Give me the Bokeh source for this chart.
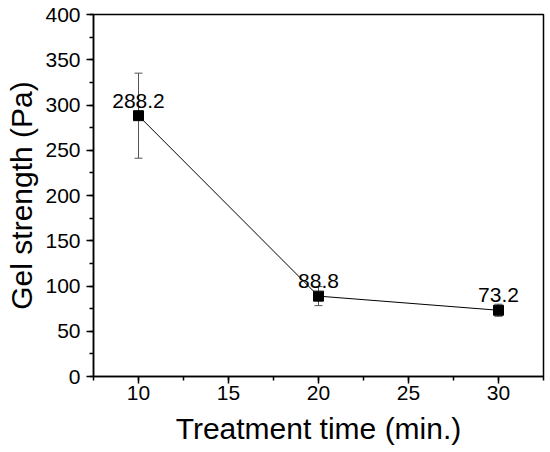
from bokeh.plotting import figure
from bokeh.models import ColumnDataSource, Whisker, TeeHead, LabelSet, SingleIntervalTicker, Range1d
from bokeh.core.properties import value
from bokeh.embed import file_html
from bokeh.resources import INLINE

time_min = [10, 20, 30]
gel_strength = [288.2, 88.8, 73.2]
gel_error = [47.0, 10.5, 6.7]
value_labels = ["288.2", "88.8", "73.2"]

upper = [v + e for v, e in zip(gel_strength, gel_error)]
lower = [v - e for v, e in zip(gel_strength, gel_error)]

src = ColumnDataSource(dict(x=time_min, y=gel_strength, upper=upper, lower=lower, lab=value_labels))

FONT = "Liberation Sans"

p = figure(width=550, height=452, output_backend="svg", toolbar_location=None,
           x_range=Range1d(7.5, 32.5), y_range=Range1d(0, 400),
           min_border_left=93, min_border_right=7, min_border_top=14, min_border_bottom=76)

p.xgrid.visible = False
p.ygrid.visible = False
p.outline_line_color = "black"
p.outline_line_width = 1.5
p.outline_line_alpha = 1.0

p.xaxis.ticker = SingleIntervalTicker(interval=5, num_minor_ticks=2)
p.yaxis.ticker = SingleIntervalTicker(interval=50, num_minor_ticks=2)

for ax in (p.xaxis[0], p.yaxis[0]):
    ax.axis_line_color = "black"
    ax.axis_line_width = 1.5
    ax.major_tick_line_color = "black"
    ax.major_tick_line_width = 1.5
    ax.minor_tick_line_color = "black"
    ax.minor_tick_line_width = 1.5
    ax.major_tick_out = 7
    ax.major_tick_in = 0
    ax.minor_tick_out = 4
    ax.minor_tick_in = 0
    ax.major_label_text_font = FONT
    ax.major_label_text_font_size = "21px"
    ax.major_label_text_color = "black"
    ax.axis_label_text_font = FONT
    ax.axis_label_text_font_size = "30px"
    ax.axis_label_text_font_style = "normal"
    ax.axis_label_text_color = "black"

p.xaxis.axis_label = "Treatment time (min.)"
p.yaxis.axis_label = "Gel strength (Pa)"
p.xaxis.major_label_standoff = 2
p.xaxis.axis_label_standoff = 9
p.yaxis.major_label_standoff = 6
p.yaxis.axis_label_standoff = 4

p.line("x", "y", source=src, line_color="black", line_width=1)

w = Whisker(source=src, base="x", upper="upper", lower="lower",
            line_color="#555555", line_width=1,
            upper_head=TeeHead(size=8, line_color="#555555", line_width=1),
            lower_head=TeeHead(size=8, line_color="#555555", line_width=1))
p.add_layout(w)

p.scatter("x", "y", source=src, marker="square", size=10, fill_color="black", line_color="black")

labels = LabelSet(x="x", y="y", text="lab", source=src, text_align="center", text_baseline="bottom",
                  y_offset=8, text_font=value(FONT), text_font_size=value("21px"), text_color="black")
p.add_layout(labels)

open("out.html", "w").write(file_html(p, INLINE))
